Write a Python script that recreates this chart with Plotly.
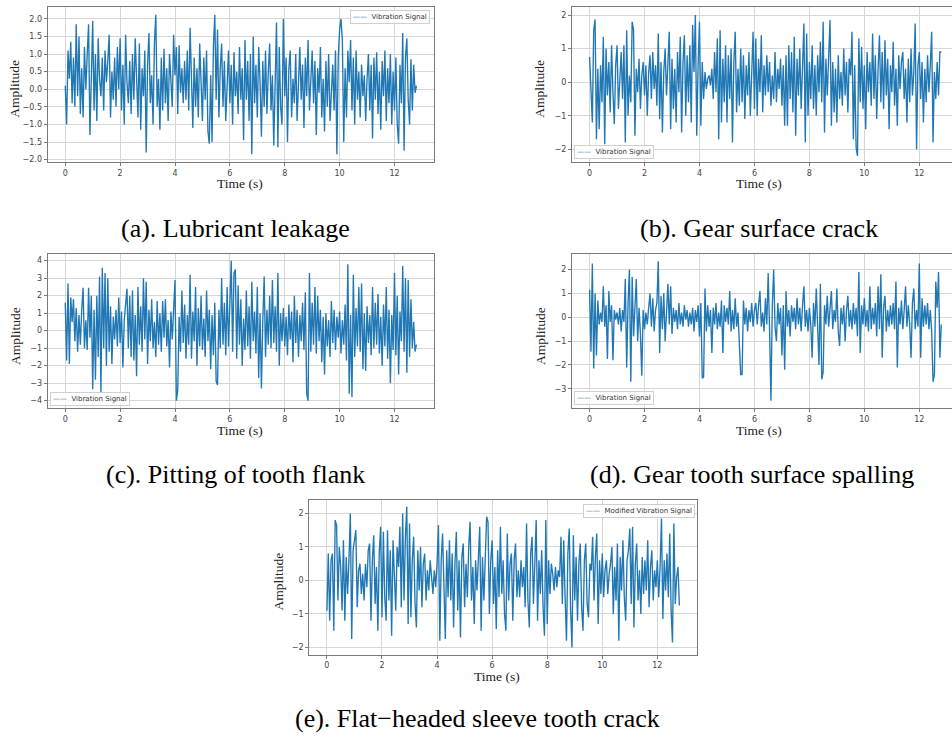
import numpy as np
import plotly.graph_objects as go

W, H = 952, 738
T_END = 12.8

# ---------------- data (amplitude values at ~0.05 s steps) -------------
sig_a = [0.1, -1.0, 1.1, 0.3, 1.35, -0.4, 0.9, -0.5, 1.85, -0.2,
         1.5, -0.7, 0.6, -0.8, 1.2, 0.0, 1.0, 1.85, -1.3, 0.4,
         1.95, -0.6, 1.0, -0.9, 1.45, 0.3, -0.2, 0.9, -0.6, 1.1,
         0.2, 0.8, 1.55, -0.8, 0.5, -0.3, 0.9, -0.5, 1.2, 0.0,
         1.45, -0.6, 0.7, -1.0, 1.55, 0.2, -0.4, 0.8, -0.7, 1.0,
         -0.3, 1.45, 0.5, -0.8, 1.3, -1.15, 0.6, -0.2, 1.1, -1.8,
         0.7, 1.6, -0.4, 0.4, -1.0, 1.3, 2.12, -0.5, 0.3, -1.15,
         0.9, -0.6, 1.15, -0.4, 0.6, -0.9, 1.0, 0.1, -0.5, 1.55,
         0.4, 1.2, -0.7, 1.25, -0.1, 0.6, -0.4, 0.8, -0.3, 1.1,
         -0.6, 1.75, 0.2, -1.1, 0.9, -0.5, 0.6, -0.8, 1.3, 0.0,
         -0.9, 0.9, -0.3, 1.1, -1.2, -1.55, 0.4, -1.5, 1.2, 2.12,
         -0.3, 1.7, -0.8, 0.6, 1.3, -0.5, 0.8, -0.9, 0.4, 1.1,
         -0.4, 0.7, -1.0, 1.05, -0.2, 0.5, -0.7, 1.2, -0.3, 0.6,
         -1.45, 1.4, -0.3, 0.8, -0.9, 1.0, -1.85, 1.5, -0.4, 0.7,
         -0.8, 1.2, 0.2, -1.35, 0.8, -0.5, 1.1, -0.7, 0.5, 1.3,
         -0.6, 0.4, -1.6, 0.7, 1.9, -1.65, 1.2, -0.5, -1.0, 2.0,
         -0.2, 0.9, -1.5, 0.6, 1.1, -0.8, 0.3, -0.4, 1.0, -0.9,
         0.5, 1.2, -0.3, 0.7, -1.1, 0.9, -0.2, 1.4, -0.6, 0.5,
         1.1, -0.4, 0.8, -1.3, 0.6, -0.1, 1.2, -0.8, 0.3, -1.2,
         0.8, -0.5, 1.0, -0.9, 0.2, 0.7, -0.6, 1.1, -1.85, 0.9,
         1.7, 2.0, 1.4, -1.5, 0.6, -0.8, 1.1, 0.2, 1.4, -0.6,
         0.9, -1.0, 1.1, -0.3, 0.5, -0.8, 0.7, -0.2, 0.4, -0.9,
         0.3, 1.0, -0.6, 0.7, -1.4, 0.9, -0.3, 1.05, -0.7, 0.5,
         -1.15, 0.8, -0.2, 1.1, -0.9, 0.6, -0.4, 1.0, -1.0, 0.5,
         -0.6, 0.9, -1.0, -1.55, 0.7, -0.4, 1.6, -1.75, 0.9, 1.45,
         -0.3, -1.0, 0.85, -0.6, 0.7, -0.1, 0.1]

sig_b = [0.75, -0.1, -1.2, 1.55, 1.87, -1.7, 0.4, -1.4, 0.5, -0.6,
         1.35, -1.85, 1.0, -0.4, 0.6, -0.9, 1.1, -0.3, -1.25, 0.5,
         1.1, -0.8, 0.3, 0.9, -0.5, 1.1, -1.8, 1.55, -1.0, 0.2,
         -0.6, 1.8, 1.55, -1.6, 0.4, -0.3, 0.7, -0.8, 0.2, 0.6,
         -0.4, 0.5, -1.0, 0.3, 0.8, -0.5, 0.9, -0.2, 0.5, -0.7,
         1.45, -1.1, 0.6, -1.5, 0.3, 1.0, -0.4, 0.8, 1.5, -1.4,
         0.7, -0.8, 0.4, -1.2, 0.9, -0.3, 1.35, -1.5, 0.6, 1.4,
         -1.0, 0.8, -0.6, 1.1, -1.2, 1.7, 0.3, 2.0, -1.6, 0.5,
         1.8, -1.3, 0.6, -0.5, 0.3, -0.2, 0.1, 0.2, -0.1, 0.4,
         -0.5, 0.9, -0.3, 1.3, -1.7, 1.55, -1.2, 0.7, -0.6, 1.1,
         -1.2, 0.8, -0.5, 1.0, -1.8, 0.6, 1.5, -0.9, 0.4, -0.7,
         1.0, -0.6, 0.8, -1.1, 0.5, -0.4, 0.9, -1.0, 0.6, 1.5,
         -0.8, 1.3, -1.0, 0.7, -0.3, 1.4, -0.9, 0.5, -0.4, 0.8,
         -0.3, 0.6, -0.7, 0.2, -0.5, 0.9, -0.6, 0.4, -0.2, 0.7,
         -0.7, 0.5, -1.3, 0.8, -1.3, 1.1, -0.5, 0.9, -0.9, 1.35,
         -1.6, 0.7, -0.4, 1.0, -0.8, 0.4, 1.75, -1.8, 1.45, -1.0,
         0.6, -0.5, 1.1, -0.8, 0.5, -1.0, 0.8, -0.3, 1.2, -0.6,
         1.8, -1.5, 0.7, -0.4, 1.0, 1.85, -1.3, 0.6, -0.9, 0.4,
         -1.2, 0.8, -0.5, 0.3, -0.7, 1.0, -0.4, 0.6, -0.9, 0.7,
         0.2, 1.5, -1.7, 0.5, -1.95, -2.2, 1.3, -0.6, 1.05, -0.8,
         0.5, -1.4, 0.9, -0.3, 0.6, -0.7, 1.45, -0.5, 0.8, -1.1,
         0.4, 1.4, -0.6, 0.9, -0.8, 1.25, -0.4, 0.7, -1.4, 0.5,
         -0.3, 1.2, -0.7, 0.4, -1.3, 0.8, -0.2, 0.6, 0.9, -0.5,
         0.4, -1.2, 0.7, -0.6, 1.0, -0.4, 0.3, 1.75, -2.0, 0.5,
         0.9, -0.5, 0.6, -1.2, 0.4, -0.6, 0.8, -0.3, 0.5, 1.5,
         -1.8, 0.3, -0.5, 0.6, -0.4, 0.9, 0.9]

sig_c = [1.6, -1.7, 2.7, -1.9, 1.9, 0.5, 1.8, -0.6, 1.3, -1.2,
         0.9, -0.8, 1.2, 2.45, -1.0, 0.6, -1.1, 2.45, -0.4, 2.0,
         -3.35, 1.2, -2.8, 2.0, -1.5, 3.1, -3.5, 3.6, -1.0, 3.3,
         -2.0, 3.0, -1.2, 1.4, -1.9, 0.8, -0.5, 1.2, -0.9, 1.9,
         -0.7, 1.1, -2.1, 0.6, 1.5, 2.4, -1.0, 2.0, -1.5, 2.3,
         -1.7, 0.9, -2.6, 2.5, -0.8, 1.4, -1.2, 3.0, -0.5, 2.8,
         -1.9, 1.2, -0.6, 1.8, -1.0, 0.5, -1.5, 1.7, -0.8, 1.0,
         -1.2, 1.7, -0.4, 1.8, -0.9, 0.6, -2.1, 1.1, -0.5, 1.5,
         2.9, -4.0, -3.4, 0.8, -1.2, 2.3, -0.7, 1.5, -1.6, 0.9,
         -0.8, 3.2, -1.6, 1.1, -0.6, 2.5, -2.0, 1.3, -0.9, 2.0,
         -1.1, 0.7, -1.5, 2.3, -0.6, 1.2, -2.2, 0.9, -1.4, 1.6,
         -2.9, -3.1, 1.2, -1.0, 3.0, -0.8, 1.6, -1.4, 2.5, -0.9,
         1.8, 4.0, -1.2, 3.3, 3.5, -1.6, 2.6, -0.8, 1.8, -2.0,
         0.7, -1.1, 2.3, -0.9, 1.4, -1.6, 2.8, -0.6, 1.1, -1.3,
         2.5, -2.7, 1.0, -3.3, 0.6, 3.1, -1.5, 1.2, -0.8, 2.0,
         -1.0, 2.9, -0.7, 1.4, -1.2, 3.3, -2.0, 1.0, -0.6, 1.3,
         -0.9, 0.8, -1.4, 1.5, -0.5, 1.1, -1.8, 2.0, -0.7, 1.2,
         -1.5, 0.9, -0.6, 1.6, -1.1, 2.2, -3.6, -4.0, 3.3, -1.2,
         1.6, -0.8, 2.5, -1.3, 2.0, -0.6, 1.2, -1.8, 0.8, -2.5,
         1.0, -0.9, 0.6, -1.5, 1.7, -0.7, 1.2, -1.1, 0.8, -0.4,
         1.1, -1.3, 0.6, -0.8, 1.5, -1.7, 3.8, -3.6, 0.9, -3.8,
         3.2, -1.5, 1.3, -0.9, 2.5, -1.2, 2.7, -2.2, 1.0, -2.3,
         1.4, -0.7, 0.9, -1.4, 2.5, -1.0, 1.6, -0.8, 2.1, -1.3,
         0.8, -2.0, 1.5, -0.9, 2.5, -1.6, 1.2, -3.0, 0.9, -1.1,
         3.3, -1.4, 2.0, -2.5, 1.1, -0.6, 3.7, -1.2, 3.0, -2.4,
         2.9, -1.5, 1.8, -1.0, 0.5, -1.2, -0.8]

sig_d = [1.15, -1.45, 2.25, -2.15, 1.0, -1.6, 0.7, -0.3, 0.2, -0.2,
         1.3, -0.4, 0.5, -1.75, 1.1, -0.2, 0.5, -1.8, 0.3, -0.1,
         0.2, -0.3, 0.4, -0.6, 0.3, -0.2, 1.6, -2.1, 0.6, 2.0,
         -2.7, 1.7, -0.8, 0.5, 1.6, -1.0, 0.4, -0.7, -2.45, 0.3,
         -0.5, 0.2, -0.3, 0.4, 1.0, -0.4, 0.8, -0.6, 0.3, 0.6,
         2.35, -1.5, 0.9, -0.5, 1.0, -1.0, 0.5, 1.4, -0.3, 1.3,
         -0.7, 0.4, -0.2, 0.3, -0.5, 0.6, -0.3, 0.2, -0.4, 0.5,
         -0.1, 0.3, -0.4, 0.2, -0.3, 0.4, -0.6, 0.3, -0.2, 0.5,
         -0.8, 0.6, -2.55, -2.5, 1.2, -0.6, 0.5, -0.4, 0.3, -1.5,
         0.4, -0.3, 0.6, -0.5, 0.2, -0.4, 0.7, -1.5, 0.5, -0.2,
         0.4, -0.3, 1.1, -0.6, 0.3, -0.5, 0.8, -0.4, 0.2, -0.9,
         -2.4, -2.4, 0.7, -0.3, 0.4, -0.6, 0.3, -0.2, 0.6, -0.4,
         0.3, 0.6, -0.3, 0.5, 1.1, -0.4, 0.2, -0.6, 0.8, -0.3,
         1.85, -0.5, -3.5, 0.5, 2.0, -0.4, -1.0, 0.6, -0.3, 0.4,
         -1.6, 0.5, -2.2, 1.1, -0.4, 0.3, -0.8, 0.5, -0.2, 0.4,
         -0.5, 0.8, -0.3, 0.4, -0.6, 0.5, 1.3, -0.4, 0.3, -0.6,
         0.4, -0.3, -1.7, 0.6, -0.4, 1.2, -0.5, -2.0, 1.4, -2.6,
         -2.3, 0.5, -0.3, 0.9, -0.4, 0.6, 1.1, -0.5, 0.3, -0.2,
         1.2, -0.6, -1.2, 0.4, -0.3, 0.5, -1.0, 0.3, 0.9, -0.4,
         0.3, -0.5, 0.6, -0.3, 0.4, -0.8, 1.9, -1.5, 0.5, -0.3,
         0.8, -0.4, 0.3, -0.6, 1.3, -0.5, 0.4, -0.3, 0.6, -0.8,
         1.3, -0.5, 1.8, -1.7, 0.4, 0.9, -0.6, 0.3, -0.4, 0.5,
         -0.3, 0.6, -0.5, 1.5, -2.1, 0.4, -0.3, 0.7, -0.5, 0.3,
         1.3, -0.4, 0.5, -0.3, -1.7, 0.6, 1.2, -0.5, 0.3, -0.4,
         2.25, -1.7, 0.8, -0.4, 0.5, -0.3, 0.6, -0.5, 0.3, -0.6,
         -2.7, -2.4, 1.5, 0.4, 1.9, -1.7, -0.3]

sig_e = [-0.9, 0.8, -1.2, 0.6, 0.8, -1.5, 1.8, 1.65, -0.6, 1.0,
         0.4, -0.9, 1.2, -1.2, 0.7, -0.4, 0.6, 2.0, -1.75, 0.9,
         1.2, 1.5, -0.8, 0.3, 0.5, -0.4, 0.2, -0.6, 0.5, -0.2,
         0.9, 1.1, -1.2, 0.6, 1.35, -0.7, 0.4, -1.5, 0.8, 1.6,
         -1.1, 1.45, -0.5, -1.2, 1.5, -0.6, 0.9, -1.65, 1.2, 0.3,
         -0.9, 1.0, 0.4, 1.6, -0.8, 2.0, -0.6, 1.3, 2.2, -1.3,
         1.7, -1.1, 0.6, 1.3, -0.7, -1.4, 0.9, -0.3, 1.0, -0.8,
         0.5, 0.8, -0.6, 0.3, -0.3, 0.6, 0.2, -0.4, 0.3, -0.2,
         0.5, 1.65, -1.8, 0.6, 1.4, -0.7, -1.75, 0.9, -0.5, 1.2,
         -0.6, 0.8, -1.4, 0.5, 1.45, -0.9, 0.6, -1.7, 0.7, 1.1,
         -0.8, 0.5, -0.5, 1.0, 1.75, -0.6, 0.4, -1.3, 0.6, -0.3,
         0.8, 1.6, -1.5, 0.7, -0.6, 1.0, 1.9, 1.75, -1.0, 0.6,
         1.2, -0.7, 0.4, -1.45, 0.9, -0.5, 1.6, -0.4, 0.6, -1.0,
         -1.5, 1.4, -0.6, 0.5, 0.8, -1.2, 0.6, 1.1, -0.5, 0.3,
         -0.5, 0.6, -0.2, 0.4, -0.8, 1.7, -0.6, -1.4, 0.8, 1.3,
         -0.7, 0.5, 1.8, -1.2, 0.6, -0.4, 0.9, -0.8, -1.65, 1.8,
         -1.3, 0.6, -0.4, 0.5, 0.2, -0.3, 0.4, -0.2, 0.3, 0.1,
         1.3, -0.7, 1.2, -0.5, -1.8, 0.8, 1.55, -0.9, -2.0, 1.35,
         -0.6, 0.7, -1.2, 0.5, 1.1, -0.8, -1.5, 0.6, 1.1, -0.7,
         -1.1, 0.5, 0.3, 1.3, -0.6, 0.7, 1.4, -1.3, 0.6, -0.4,
         0.8, -0.5, 0.3, 0.6, -0.4, 0.2, 0.5, 1.0, -1.0, 0.4,
         -0.6, 1.1, -1.8, 0.7, -0.3, 1.2, -0.5, -1.2, 0.6, 0.9,
         1.55, -0.7, 1.6, -1.4, 0.5, 1.1, -0.6, 0.3, -1.0, 0.7,
         -0.4, 0.6, -0.3, 1.2, -0.8, 0.4, 0.9, -0.6, 0.3, -0.2,
         0.6, -0.5, 0.4, 1.85, -1.15, 0.6, -0.3, 0.8, -0.5, 1.4,
         -0.9, -1.85, 1.7, -0.7, 0.1, 0.4, -0.75]

x_ticks = [0, 2, 4, 6, 8, 10, 12]
yticks_a = [-2.0, -1.5, -1.0, -0.5, 0.0, 0.5, 1.0, 1.5, 2.0]
yticks_b = [-2, -1, 0, 1, 2]
yticks_c = [-4, -3, -2, -1, 0, 1, 2, 3, 4]
yticks_d = [-3, -2, -1, 0, 1, 2]
yticks_e = [-2, -1, 0, 1, 2]

captions = ["(a). Lubricant leakage", "(b). Gear surface crack",
            "(c). Pitting of tooth flank", "(d). Gear tooth surface spalling",
            "(e). Flat\u2212headed sleeve tooth crack"]
legend_names = ["Vibration Signal", "Vibration Signal", "Vibration Signal",
                "Vibration Signal", "Modified Vibration Signal"]

# ---------------- layout geometry (pixels) ----------------
LINE = "#1f77b4"
SERIF = "Liberation Serif, Times New Roman, serif"
SANS = "DejaVu Sans, sans-serif"

panels = [
    dict(sig=sig_a, L=47.7, R=434, T=7, B=162.5, xr=[-0.64, 13.44], yr=[-2.07, 2.34], yt=yticks_a, fmt=".1f",
         mirror=True, ylx=15, yly=89, xlx=240, xly=184, cx=235, cy=229, lg=("tr", 430, 10)),
    dict(sig=sig_b, L=572, R=952, T=7, B=162.3, xr=[-0.64, 13.19], yr=[-2.375, 2.24], yt=yticks_b, fmt="d",
         mirror=False, ylx=540, yly=89, xlx=759, xly=184, cx=759, cy=229, lg=("bl", 574, 159)),
    dict(sig=sig_c, L=47.7, R=434, T=254.7, B=409.3, xr=[-0.64, 13.44], yr=[-4.43, 4.38], yt=yticks_c, fmt="d",
         mirror=True, ylx=15, yly=337, xlx=240, xly=432, cx=235, cy=476, lg=("bl", 50, 407)),
    dict(sig=sig_d, L=572, R=952, T=254.7, B=409.3, xr=[-0.64, 13.19], yr=[-3.81, 2.65], yt=yticks_d, fmt="d",
         mirror=False, ylx=540, yly=337, xlx=759, xly=432, cx=752, cy=476, lg=("bl", 574, 406)),
    dict(sig=sig_e, L=309.3, R=697, T=501.7, B=656.3, xr=[-0.64, 13.44], yr=[-2.21, 2.39], yt=yticks_e, fmt="d",
         mirror=True, ylx=278, yly=583, xlx=497, xly=678, cx=477, cy=720, lg=("tr", 695, 505)),
]


def px(x):
    return x / W


def py(y):
    return 1 - y / H


fig = go.Figure()
annotations = []
layout = {}

for k, p in enumerate(panels):
    n = k + 1
    xa = "xaxis" if n == 1 else f"xaxis{n}"
    ya = "yaxis" if n == 1 else f"yaxis{n}"
    xref = "x" if n == 1 else f"x{n}"
    yref = "y" if n == 1 else f"y{n}"
    sig = p["sig"]
    t = np.linspace(0, T_END, len(sig))
    fig.add_trace(go.Scatter(x=t, y=sig, mode="lines", line=dict(color=LINE, width=1.35),
                             xaxis=xref, yaxis=yref, showlegend=False, name=legend_names[k]))
    common = dict(showgrid=True, gridcolor="#d6d6d6", gridwidth=1, zeroline=False,
                  showline=True, linecolor="#7a7a7a", linewidth=1.2,
                  ticks="outside", ticklen=3, tickcolor="#7a7a7a", tickwidth=1,
                  tickfont=dict(family=SANS, size=8, color="#444"), fixedrange=True)
    layout[xa] = dict(common, domain=[px(p["L"]), px(p["R"])], range=p["xr"], anchor=yref,
                      tickvals=x_ticks, mirror=True)
    layout[ya] = dict(common, domain=[py(p["B"]), py(p["T"])], range=p["yr"], anchor=xref,
                      tickvals=p["yt"], tickformat=p["fmt"], mirror=p["mirror"])
    annotations.append(dict(text="Amplitude", x=px(p["ylx"]), y=py(p["yly"]), xref="paper", yref="paper",
                            textangle=-90, showarrow=False, xanchor="center", yanchor="middle",
                            font=dict(family=SERIF, size=13.5, color="#222")))
    annotations.append(dict(text="Time (s)", x=px(p["xlx"]), y=py(p["xly"]), xref="paper", yref="paper",
                            showarrow=False, xanchor="center", yanchor="middle",
                            font=dict(family=SERIF, size=13.5, color="#222")))
    annotations.append(dict(text=captions[k], x=px(p["cx"]), y=py(p["cy"]), xref="paper", yref="paper",
                            showarrow=False, xanchor="center", yanchor="middle",
                            font=dict(family=SERIF, size=26, color="#000")))
    corner, lx, ly = p["lg"]
    annotations.append(dict(
        text=f'<span style="color:{LINE}">\u2014\u2014</span>  {legend_names[k]}',
        x=px(lx), y=py(ly), xref="paper", yref="paper", showarrow=False,
        xanchor="right" if corner == "tr" else "left",
        yanchor="top" if corner == "tr" else "bottom",
        font=dict(family=SANS, size=7, color="#333"),
        bgcolor="rgba(255,255,255,0.85)", bordercolor="#cfcfcf", borderwidth=1, borderpad=2))

fig.update_layout(width=W, height=H, margin=dict(l=0, r=0, t=0, b=0),
                  paper_bgcolor="white", plot_bgcolor="white",
                  annotations=annotations, showlegend=False, **layout)

fig.write_html("out.html")
